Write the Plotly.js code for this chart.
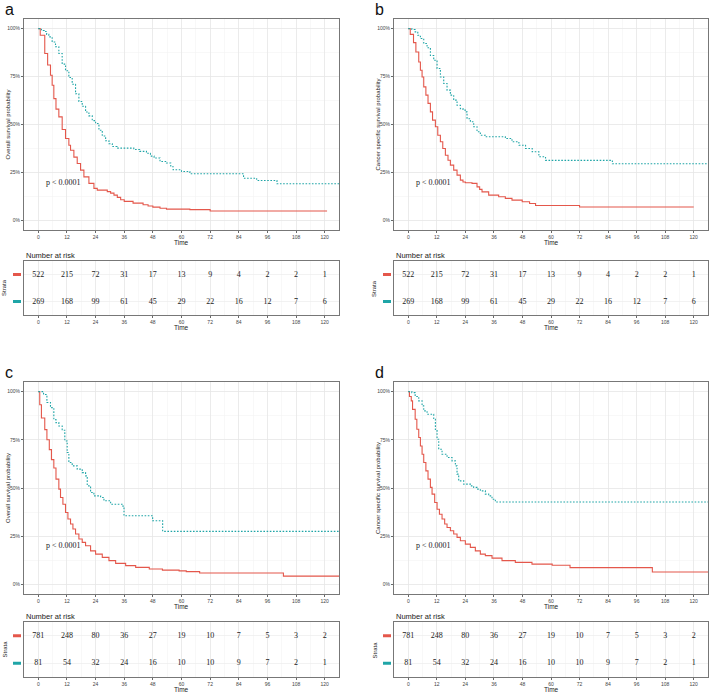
<!DOCTYPE html>
<html><head><meta charset="utf-8">
<script src="https://cdn.plot.ly/plotly-3.0.1.min.js"></script>
<style>html,body{margin:0;padding:0;background:#fff}#chart{width:709px;height:694px}</style>
</head><body><div id="chart"></div>
<script>
// ---------- data ----------
const redA_t = [0,0.8,2.7,3.9,5.1,5.8,6.5,7.4,8.6,10,11.4,12.8,13.5,14.9,16.3,17.7,19.1,21.2,23.3,24.7,28.9,30.3,31.7,33.1,34.5,36,39.7,43.9,46,48,51,53.7,63.5,72,121];
const redA_s = [1,0.965,0.87,0.81,0.757,0.705,0.635,0.58,0.54,0.474,0.427,0.392,0.366,0.33,0.297,0.262,0.227,0.193,0.167,0.158,0.15,0.142,0.132,0.12,0.108,0.099,0.09,0.082,0.075,0.069,0.063,0.059,0.056,0.049,0.049];
const tealA_t = [0,1.3,2.5,3.5,4.4,5.8,7.2,8.6,10,11.4,12.8,14.2,15.6,17,18.4,19.8,21.2,22.6,24,25.4,26.8,28.2,29.6,31,33,40,42.5,45.3,47,48.5,51,53.7,55.5,56.5,60,63.5,86,91.5,100,126];
const tealA_s = [1,0.99,0.985,0.97,0.957,0.93,0.905,0.87,0.815,0.78,0.745,0.71,0.66,0.62,0.595,0.565,0.545,0.52,0.505,0.47,0.44,0.415,0.40,0.385,0.377,0.37,0.36,0.35,0.335,0.325,0.307,0.299,0.28,0.264,0.255,0.243,0.22,0.208,0.191,0.191];

const redB_t = [0,0.84,2.2,3.2,4.4,5.1,5.8,6.5,7.4,8.3,9.3,10.2,11.4,12.4,13.5,14.5,15.6,16.7,17.7,19.1,20.5,21.9,23,24,26.8,28.9,30,31,33.8,38,40.8,43.6,47.9,51,53.5,72,120];
const redB_s = [1,0.97,0.927,0.878,0.826,0.783,0.748,0.696,0.653,0.61,0.566,0.523,0.488,0.444,0.41,0.375,0.34,0.314,0.288,0.262,0.236,0.21,0.2,0.196,0.193,0.175,0.162,0.149,0.132,0.123,0.115,0.106,0.097,0.088,0.078,0.07,0.07];
const tealB_t = [0,1.5,2.9,4,5.1,6.5,7.9,9.3,10.7,12.1,13.5,14.9,16.3,17.7,19.1,20.5,21.9,23,24,24.7,26.1,27.5,28.9,30.3,32.4,40.8,43.6,46.5,49.3,52.1,54.9,57.7,85.8,126];
const tealB_s = [1,0.995,0.983,0.965,0.948,0.922,0.9,0.86,0.835,0.792,0.748,0.714,0.679,0.653,0.627,0.60,0.583,0.575,0.566,0.53,0.514,0.488,0.462,0.444,0.436,0.427,0.41,0.392,0.375,0.358,0.332,0.313,0.295,0.295];

const redC_t = [0,0.6,1.3,2.7,3.6,4.6,5.5,6.5,7.4,8.6,9.3,10.3,11.4,12.4,13.5,14.5,15.6,17,18.4,19.8,21.9,24,26.8,29.6,32.4,36.6,40.8,46.5,52,59,62,67.6,102.7,126];
const redC_s = [1,0.932,0.863,0.803,0.75,0.699,0.647,0.604,0.546,0.494,0.451,0.416,0.373,0.339,0.313,0.287,0.261,0.235,0.218,0.20,0.174,0.157,0.14,0.123,0.109,0.097,0.088,0.08,0.074,0.07,0.066,0.059,0.043,0.043];
const tealC_t = [0,2.2,3.6,5.1,6.5,7.4,8.6,10,11.1,12.1,12.8,14.2,16.3,18.4,19.8,20.5,21.9,23.3,26.1,27.5,30.3,35.5,35.9,47.9,52.1,126];
const tealC_s = [1,0.985,0.944,0.917,0.855,0.839,0.822,0.80,0.744,0.684,0.632,0.615,0.598,0.58,0.563,0.511,0.477,0.459,0.451,0.434,0.416,0.399,0.356,0.33,0.275,0.275];

const redD_t = [0,0.5,1.26,1.8,2.9,3.6,4.4,5.1,5.8,6.5,7.4,8.3,9.3,10,11.1,12.1,13.1,14.2,15.3,16.3,17.7,19.1,20.5,21.9,24,26.1,28.2,30.3,32.4,35.2,39.4,45,52,60.5,68,102.6,126];
const redD_s = [1,0.975,0.952,0.908,0.857,0.805,0.762,0.718,0.675,0.632,0.589,0.546,0.503,0.468,0.425,0.39,0.364,0.339,0.313,0.295,0.278,0.261,0.244,0.226,0.209,0.192,0.174,0.157,0.149,0.136,0.123,0.114,0.105,0.099,0.087,0.064,0.064];
const tealD_t = [0,1.5,2.9,4.4,5.8,6.5,7.9,10.7,11.4,12.1,12.8,14.2,16.3,18.4,19.8,20.5,21.2,23.3,26.1,27.5,28.9,30.3,32.4,33.8,35.2,36.6,126];
const tealD_s = [1,0.995,0.975,0.952,0.926,0.90,0.883,0.857,0.798,0.753,0.701,0.675,0.658,0.641,0.615,0.572,0.537,0.52,0.511,0.503,0.494,0.485,0.468,0.459,0.442,0.427,0.427];

const riskTimes = [0,12,24,36,48,60,72,84,96,108,120];
const riskRedAB  = [522,215,72,31,17,13,9,4,2,2,1];
const riskTealAB = [269,168,99,61,45,29,22,16,12,7,6];
const riskRedCD  = [781,248,80,36,27,19,10,7,5,3,2];
const riskTealCD = [81,54,32,24,16,10,10,9,7,2,1];

const panelLabels = ['a','b','c','d'];
const yTitles = ['Overall survival probability','Cancer specific survival probability','Overall survival probability','Cancer specific survival probability'];
const pText = 'p < 0.0001';

// ---------- layout geometry (pixels) ----------
const W = 709, H = 694;
const fx = p => p / W, fy = p => 1 - p / H;
const RED = '#E4574B', TEAL = '#1FA5A7';
const geo = [
  {x0:24,  x1:339, kt:19,  kb:230, tt:261, tb:315},
  {x0:394, x1:708, kt:19,  kb:230, tt:261, tb:315},
  {x0:24,  x1:339, kt:382, kb:594, tt:622, tb:677},
  {x0:394, x1:708, kt:382, kb:594, tt:622, tb:677}
];
const curves = [
  [redA_t, redA_s, tealA_t, tealA_s, riskRedAB, riskTealAB],
  [redB_t, redB_s, tealB_t, tealB_s, riskRedAB, riskTealAB],
  [redC_t, redC_s, tealC_t, tealC_s, riskRedCD, riskTealCD],
  [redD_t, redD_s, tealD_t, tealD_s, riskRedCD, riskTealCD]
];

const data = [];
const layout = {
  width: W, height: H, margin: {l:0, r:0, t:0, b:0},
  paper_bgcolor: '#fff', plot_bgcolor: '#fff', showlegend: false,
  font: {family: 'Liberation Sans, Arial, sans-serif', color: '#222'},
  annotations: [], shapes: []
};
const xCommon = {
  range: [-6, 126], tickvals: riskTimes, ticks: 'outside', ticklen: 2, tickwidth: 0.8, tickcolor: '#444',
  tickfont: {size: 5, color: '#444'}, showline: true, mirror: true, linecolor: '#777', linewidth: 1,
  showgrid: true, gridcolor: '#e6e6e6', gridwidth: 0.7, zeroline: false,
  minor: {tick0: 0, dtick: 6, showgrid: true, gridcolor: '#f2f2f2', gridwidth: 0.5}
};

geo.forEach((g, i) => {
  const k = i + 1, t = i + 5;
  const [rt, rs, tt, ts, rr, tr] = curves[i];
  data.push({x: rt, y: rs, xaxis: 'x' + k, yaxis: 'y' + k, type: 'scatter', mode: 'lines',
    line: {shape: 'hv', color: RED, width: 1.1}, hoverinfo: 'skip'});
  data.push({x: tt, y: ts, xaxis: 'x' + k, yaxis: 'y' + k, type: 'scatter', mode: 'lines',
    line: {shape: 'hv', color: TEAL, width: 1.1, dash: '1.6px,1.6px'}, hoverinfo: 'skip'});
  data.push({x: riskTimes, y: riskTimes.map(() => 2), text: rr.map(String), xaxis: 'x' + t, yaxis: 'y' + t,
    type: 'scatter', mode: 'text', textfont: {family: 'Liberation Serif, Times New Roman, serif', size: 8, color: '#222'}, hoverinfo: 'skip'});
  data.push({x: riskTimes, y: riskTimes.map(() => 1), text: tr.map(String), xaxis: 'x' + t, yaxis: 'y' + t,
    type: 'scatter', mode: 'text', textfont: {family: 'Liberation Serif, Times New Roman, serif', size: 8, color: '#222'}, hoverinfo: 'skip'});

  layout['xaxis' + k] = Object.assign({}, xCommon, {domain: [fx(g.x0), fx(g.x1)], anchor: 'y' + k});
  layout['yaxis' + k] = {
    domain: [fy(g.kb), fy(g.kt)], anchor: 'x' + k, range: [-0.05, 1.05],
    tickvals: [0, 0.25, 0.5, 0.75, 1], tickformat: '.0%', ticks: 'outside', ticklen: 2, tickwidth: 0.8, tickcolor: '#444',
    tickfont: {size: 5, color: '#444'}, showline: true, mirror: true, linecolor: '#777', linewidth: 1,
    showgrid: true, gridcolor: '#e6e6e6', gridwidth: 0.7, zeroline: false,
    minor: {tick0: 0, dtick: 0.125, showgrid: true, gridcolor: '#f2f2f2', gridwidth: 0.5}
  };
  layout['xaxis' + t] = Object.assign({}, xCommon, {domain: [fx(g.x0), fx(g.x1)], anchor: 'y' + t});
  layout['yaxis' + t] = {
    domain: [fy(g.tb), fy(g.tt)], anchor: 'x' + t, range: [0.5, 2.5], tickvals: [1, 2], showticklabels: false,
    ticks: '', showline: true, mirror: true, linecolor: '#777', linewidth: 1,
    showgrid: true, gridcolor: '#ececec', gridwidth: 0.7, zeroline: false
  };

  const A = layout.annotations;
  A.push({xref: 'paper', yref: 'paper', x: fx(g.x0 - 21), y: fy(g.kt - 10), text: panelLabels[i], showarrow: false,
    xanchor: 'left', yanchor: 'middle', font: {size: 16, color: '#111'}});
  A.push({xref: 'paper', yref: 'paper', x: fx(g.x0 - 16), y: fy((g.kt + g.kb) / 2), text: yTitles[i], textangle: -90,
    showarrow: false, xanchor: 'center', yanchor: 'middle', font: {size: 6, color: '#222'}});
  A.push({xref: 'paper', yref: 'paper', x: (fx(g.x0) + fx(g.x1)) / 2, y: fy(g.kb + 12.5), text: 'Time',
    showarrow: false, xanchor: 'center', yanchor: 'middle', font: {size: 6.5, color: '#222'}});
  A.push({xref: 'x' + k, yref: 'y' + k, x: 2.2, y: 0.2, text: pText, showarrow: false, xanchor: 'left', yanchor: 'middle',
    font: {family: 'Liberation Serif, Times New Roman, serif', size: 8, color: '#222'}});
  A.push({xref: 'paper', yref: 'paper', x: fx(g.x0), y: fy(g.tt - 6), text: 'Number at risk', showarrow: false,
    xanchor: 'left', yanchor: 'middle', font: {size: 7.5, color: '#222'}});
  A.push({xref: 'paper', yref: 'paper', x: fx(g.x0 - 20), y: fy((g.tt + g.tb) / 2), text: 'Strata', textangle: -90,
    showarrow: false, xanchor: 'center', yanchor: 'middle', font: {size: 6, color: '#222'}});
  A.push({xref: 'paper', yref: 'paper', x: (fx(g.x0) + fx(g.x1)) / 2, y: fy(g.tb + 12.5), text: 'Time',
    showarrow: false, xanchor: 'center', yanchor: 'middle', font: {size: 6.5, color: '#222'}});

  layout.shapes.push({type: 'line', xref: 'paper', yref: 'y' + t, x0: fx(g.x0 - 11), x1: fx(g.x0 - 3), y0: 2, y1: 2,
    line: {color: RED, width: 3}});
  layout.shapes.push({type: 'line', xref: 'paper', yref: 'y' + t, x0: fx(g.x0 - 11), x1: fx(g.x0 - 3), y0: 1, y1: 1,
    line: {color: TEAL, width: 3}});
});

Plotly.newPlot('chart', data, layout, {staticPlot: true, displayModeBar: false});
</script>
</body></html>
